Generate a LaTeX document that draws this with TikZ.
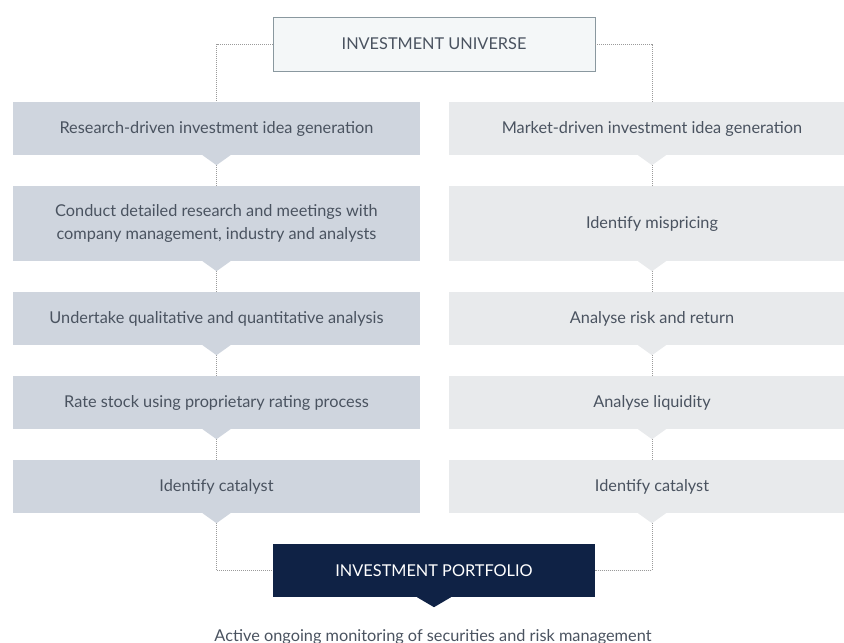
\documentclass[tikz,border=0pt]{standalone}
\usepackage{fontspec}
\setmainfont{Lato}
\usepackage{tikz}
\usetikzlibrary{calc}
\definecolor{leftfill}{HTML}{CFD5DE}
\definecolor{rightfill}{HTML}{E8EAEC}
\definecolor{topfill}{HTML}{F4F7F8}
\definecolor{topline}{HTML}{8A989F}
\definecolor{navy}{HTML}{0F2245}
\definecolor{txt}{HTML}{4A5360}
\definecolor{dots}{HTML}{9A9A9A}
\tikzstyle{lbox}=[fill=leftfill,text=txt,minimum width=407pt,minimum height=53pt,inner sep=0pt,align=center,font=\fontsize{16.3}{23}\selectfont]
\tikzstyle{rbox}=[lbox,fill=rightfill,minimum width=406pt]
\tikzstyle{conn} = [draw=dots,line width=0.8pt,dash pattern=on 1pt off 1pt]
% small arrow tip under a box
\newcommand\ptr[3]{\fill[#2] ([xshift=-#3pt]#1.south) -- ([xshift=#3pt]#1.south) -- ([yshift=-10pt]#1.south) -- cycle;}

\begin{document}
\begin{tikzpicture}[x=1pt,y=-1pt]
        \useasboundingbox[fill=white] (0,0) rectangle (844,643);
        \node[draw=topline,fill=topfill,text=txt,line width=0.8pt,minimum width=322pt,minimum height=54pt,font=\fontsize{16.3}{23}\selectfont] (univ) at (434,44) {INVESTMENT UNIVERSE};
        \node[lbox] (l1) at (216.5,128.5) {Research-driven investment idea generation};
        \node[lbox,minimum height=75pt] (l2) at (216.5,223.5) {Conduct detailed research and meetings with\\company management, industry and analysts};
        \node[lbox] (l3) at (216.5,318.5) {Undertake qualitative and quantitative analysis};
        \node[lbox] (l4) at (216.5,402.5) {Rate stock using proprietary rating process};
        \node[lbox] (l5) at (216.5,486.5) {Identify catalyst};
        \node[rbox] (r1) at (652,128.5) {Market-driven investment idea generation};
        \node[rbox,minimum height=75pt] (r2) at (652,223.5) {Identify mispricing};
        \node[rbox] (r3) at (652,318.5) {Analyse risk and return};
        \node[rbox] (r4) at (652,402.5) {Analyse liquidity};
        \node[rbox] (r5) at (652,486.5) {Identify catalyst};
        \node[fill=navy,text=white,minimum width=322pt,minimum height=53pt,font=\fontsize{16.3}{23}\selectfont] (port) at (434,570.5) {INVESTMENT PORTFOLIO};
        \node[text=txt,anchor=base,font=\fontsize{16.3}{23}\selectfont] (note) at (433,641) {Active ongoing monitoring of securities and risk management};
        \draw[conn] (univ.west) -| (l1.north);
        \draw[conn] (univ.east) -| (r1.north);
        \draw[conn] (l1.south) to (l2.north);
        \draw[conn] (l2.south) to (l3.north);
        \draw[conn] (l3.south) to (l4.north);
        \draw[conn] (l4.south) to (l5.north);
        \draw[conn] (r1.south) to (r2.north);
        \draw[conn] (r2.south) to (r3.north);
        \draw[conn] (r3.south) to (r4.north);
        \draw[conn] (r4.south) to (r5.north);
        \draw[conn] (l5.south) |- (port.west);
        \draw[conn] (r5.south) |- (port.east);
        \ptr{l1}{leftfill}{14}
        \ptr{l2}{leftfill}{14}
        \ptr{l3}{leftfill}{14}
        \ptr{l4}{leftfill}{14}
        \ptr{l5}{leftfill}{14}
        \ptr{r1}{rightfill}{14}
        \ptr{r2}{rightfill}{14}
        \ptr{r3}{rightfill}{14}
        \ptr{r4}{rightfill}{14}
        \ptr{r5}{rightfill}{14}
        \ptr{port}{navy}{17}
      \end{tikzpicture}
\end{document}
